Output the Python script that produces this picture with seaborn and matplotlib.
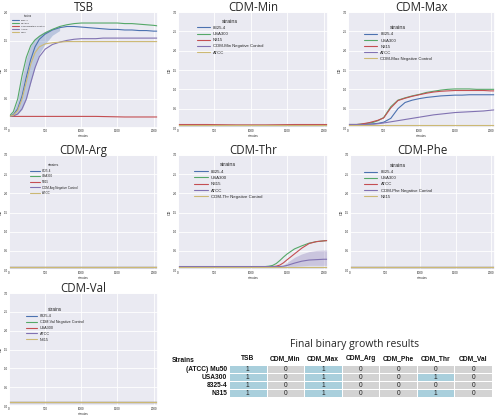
import matplotlib
matplotlib.use("Agg")
import pandas as pd
from matplotlib import pyplot as plt
from matplotlib.colors import ListedColormap
import seaborn as sns

sns.set_theme(style="darkgrid", rc={'grid.linewidth': 0.6})
plt.rcParams['font.family'] = ['Liberation Sans', 'DejaVu Sans']

DEEP = ["#4C72B0", "#55A868", "#C44E52", "#8172B2", "#CCB974"]

# time grids (minutes)
T = [0, 60, 120, 180, 240, 300, 360, 420, 500, 600, 700, 800, 900, 1000,
     1100, 1200, 1300, 1400, 1500, 1600, 1700, 1800, 1900, 2000, 2060]
T_FLAT = [0, 400, 800, 1200, 1600, 2060]
T_THR = [0, 400, 800, 1200, 1250, 1300, 1350, 1400, 1450, 1500, 1600,
         1700, 1800, 1900, 2000, 2060]

# TSB
TSB_ORDER = ['8325-4', 'USA300', 'TSB Negative Control', 'ATCC', 'N315']
tsb_8325 = [0.20, 0.23, 0.33, 0.55, 0.88, 1.18, 1.40, 1.53, 1.62, 1.69, 1.73, 1.75, 1.75,
            1.74, 1.73, 1.72, 1.71, 1.70, 1.70, 1.69, 1.69, 1.68, 1.68, 1.67, 1.67]
tsb_usa300 = [0.20, 0.28, 0.50, 0.90, 1.22, 1.42, 1.52, 1.58, 1.64, 1.70, 1.75, 1.78, 1.80,
              1.81, 1.81, 1.81, 1.81, 1.81, 1.81, 1.80, 1.80, 1.79, 1.78, 1.77, 1.76]
tsb_neg = [0.20, 0.20, 0.20, 0.20, 0.19, 0.19]
tsb_atcc = [0.20, 0.21, 0.24, 0.33, 0.50, 0.78, 1.04, 1.23, 1.36, 1.44, 1.48, 1.51, 1.53,
            1.54, 1.54, 1.54, 1.55, 1.55, 1.55, 1.55, 1.55, 1.55, 1.55, 1.55, 1.55]
tsb_n315 = [0.20, 0.22, 0.30, 0.50, 0.80, 1.10, 1.30, 1.40, 1.45, 1.47, 1.48, 1.49, 1.49,
            1.49, 1.49, 1.49, 1.49, 1.49, 1.49, 1.49, 1.49, 1.49, 1.49, 1.49, 1.49]
TSB_BAND_T = [0, 60, 120, 180, 240, 300, 360, 420, 500, 600, 700]
tsb_band_lo = [0.20, 0.21, 0.24, 0.32, 0.50, 0.78, 1.05, 1.28, 1.45, 1.60, 1.68]
tsb_band_hi = [0.20, 0.27, 0.48, 0.86, 1.20, 1.42, 1.54, 1.61, 1.67, 1.72, 1.75]

# CDM-Min
MIN_ORDER = ['8325-4', 'USA300', 'N315', 'CDM-Min Negative Control', 'ATCC']
min_8325 = [0.09, 0.09, 0.09, 0.09, 0.09, 0.09]
min_usa300 = [0.09, 0.09, 0.09, 0.09, 0.09, 0.09]
min_n315 = [0.09, 0.09, 0.08, 0.08, 0.09, 0.09]
min_neg = [0.08, 0.08, 0.08, 0.08, 0.08, 0.08]
min_atcc = [0.09, 0.09, 0.09, 0.09, 0.09, 0.09]

# CDM-Max
MAX_ORDER = ['8325-4', 'USA300', 'N315', 'ATCC', 'CDM-Max Negative Control']
max_8325 = [0.09, 0.09, 0.09, 0.09, 0.10, 0.10, 0.11, 0.12, 0.15, 0.25, 0.50, 0.66, 0.72,
            0.76, 0.79, 0.81, 0.83, 0.84, 0.85, 0.85, 0.86, 0.86, 0.86, 0.86, 0.86]
max_usa300 = [0.09, 0.09, 0.09, 0.10, 0.11, 0.13, 0.15, 0.19, 0.27, 0.55, 0.72, 0.78, 0.83,
              0.87, 0.92, 0.95, 0.98, 1.00, 1.01, 1.01, 1.01, 1.00, 1.00, 1.00, 1.00]
max_n315 = [0.09, 0.09, 0.09, 0.10, 0.12, 0.14, 0.17, 0.20, 0.26, 0.52, 0.71, 0.77, 0.82,
            0.86, 0.90, 0.93, 0.95, 0.96, 0.97, 0.97, 0.97, 0.97, 0.97, 0.96, 0.96]
max_atcc = [0.09, 0.09, 0.09, 0.09, 0.09, 0.10, 0.10, 0.11, 0.13, 0.16, 0.19, 0.22, 0.25,
            0.28, 0.31, 0.34, 0.36, 0.38, 0.40, 0.41, 0.42, 0.43, 0.44, 0.46, 0.47]
max_neg = [0.08, 0.08, 0.08, 0.08, 0.08, 0.08]

# CDM-Arg
ARG_ORDER = ['8325-4', 'USA300', 'N315', 'CDM-Arg Negative Control', 'ATCC']
arg_8325 = [0.08, 0.08, 0.08, 0.08, 0.08, 0.08]
arg_usa300 = [0.08, 0.08, 0.08, 0.08, 0.08, 0.08]
arg_n315 = [0.08, 0.08, 0.08, 0.08, 0.08, 0.08]
arg_neg = [0.08, 0.08, 0.08, 0.08, 0.08, 0.08]
arg_atcc = [0.08, 0.08, 0.08, 0.08, 0.08, 0.08]

# CDM-Thr
THR_ORDER = ['8325-4', 'USA300', 'N315', 'ATCC', 'CDM-Thr Negative Control']
thr_8325 = [0.09, 0.09, 0.09, 0.09, 0.09, 0.09]
thr_usa300 = [0.09, 0.09, 0.09, 0.09, 0.10, 0.12, 0.17, 0.25, 0.34, 0.42, 0.55, 0.63,
              0.70, 0.74, 0.76, 0.77]
thr_n315 = [0.09, 0.09, 0.09, 0.09, 0.09, 0.09, 0.10, 0.13, 0.19, 0.27, 0.42, 0.57,
            0.69, 0.74, 0.76, 0.77]
thr_atcc = [0.09, 0.09, 0.09, 0.09, 0.09, 0.09, 0.09, 0.09, 0.10, 0.12, 0.18, 0.23,
            0.26, 0.27, 0.28, 0.28]
thr_neg = [0.09, 0.09, 0.09, 0.09, 0.09, 0.09]
THR_BAND_T = [1400, 1450, 1500, 1600, 1700, 1800, 1900, 2000, 2060]
thr_band_lo = [0.09, 0.09, 0.10, 0.10, 0.11, 0.12, 0.12, 0.12, 0.12]
thr_band_hi = [0.09, 0.13, 0.20, 0.33, 0.42, 0.48, 0.51, 0.52, 0.52]

# CDM-Phe
PHE_ORDER = ['8325-4', 'USA300', 'ATCC', 'CDM-Phe Negative Control', 'N315']
phe_8325 = [0.09, 0.09, 0.09, 0.09, 0.09, 0.09]
phe_usa300 = [0.09, 0.09, 0.09, 0.09, 0.09, 0.09]
phe_atcc = [0.09, 0.09, 0.09, 0.09, 0.09, 0.09]
phe_neg = [0.09, 0.09, 0.09, 0.09, 0.09, 0.09]
phe_n315 = [0.09, 0.09, 0.09, 0.09, 0.09, 0.09]

# CDM-Val
VAL_ORDER = ['8325-4', 'CDM-Val Negative Control', 'USA300', 'ATCC', 'N315']
val_8325 = [0.10, 0.10, 0.10, 0.10, 0.10, 0.10]
val_neg = [0.10, 0.10, 0.10, 0.10, 0.10, 0.10]
val_usa300 = [0.10, 0.10, 0.10, 0.10, 0.10, 0.10]
val_atcc = [0.10, 0.10, 0.10, 0.10, 0.10, 0.10]
val_n315 = [0.10, 0.10, 0.10, 0.10, 0.10, 0.10]

# binary results table
STRAINS = ['(ATCC) Mu50', 'USA300', '8325-4', 'N315']
MEDIA = ['TSB', 'CDM_Min', 'CDM_Max', 'CDM_Arg', 'CDM_Phe', 'CDM_Thr', 'CDM_Val']
GROWTH = [[1, 0, 1, 0, 0, 0, 0],
          [1, 0, 1, 0, 0, 1, 0],
          [1, 0, 1, 0, 0, 0, 0],
          [1, 0, 1, 0, 0, 1, 0]]

W, H = 502, 415
fig = plt.figure(figsize=(W / 100, H / 100), dpi=100)


def px_axes(l, t, r, b):
    return fig.add_axes([l / W, 1 - b / H, (r - l) / W, (b - t) / H])


def draw_panel(ax, title, curves, order, ylim, yticks, leg_xy, fs, tfs, band=None):
    df = pd.concat([pd.DataFrame({'minutes': tt, 'OD': vv, 'strains': name})
                    for name, (tt, vv) in curves.items()], ignore_index=True)
    if band is not None:
        bt, lo, hi, ci = band
        ax.fill_between(bt, lo, hi, color=DEEP[ci], alpha=0.3, lw=0)
    sns.lineplot(data=df, x='minutes', y='OD', hue='strains', hue_order=order,
                 palette=DEEP, linewidth=0.8, ax=ax)
    ax.set_xlim(0, 2060)
    ax.set_ylim(*ylim)
    ax.set_xticks([0, 500, 1000, 1500, 2000])
    ax.set_yticks(yticks)
    ax.tick_params(labelsize=2.2, pad=0.8, length=0)
    ax.set_xlabel('minutes', fontsize=2.2, labelpad=0.5)
    ax.set_ylabel('OD', fontsize=2.6, labelpad=0.2)
    ax.set_title(title, fontsize=8.3, family='Open Sans', pad=1.0)
    h, l = ax.get_legend_handles_labels()
    ax.legend(h, l, title='strains', loc='upper left', bbox_to_anchor=leg_xy,
              frameon=False, fontsize=fs, title_fontsize=tfs, borderpad=0,
              handlelength=3, labelspacing=0.5)


Y3 = [0.0, 0.5, 1.0, 1.5, 2.0, 2.5, 3.0]

ax = px_axes(9, 12, 158, 128)
draw_panel(ax, 'TSB',
           {'8325-4': (T, tsb_8325), 'USA300': (T, tsb_usa300),
            'TSB Negative Control': (T_FLAT, tsb_neg), 'ATCC': (T, tsb_atcc),
            'N315': (T, tsb_n315)},
           TSB_ORDER, (0, 2.0), [0.0, 0.5, 1.0, 1.5, 2.0], (0.013, 0.99), 1.7, 2.0,
           band=(TSB_BAND_T, tsb_band_lo, tsb_band_hi, 0))

ax = px_axes(178, 12, 328, 128)
draw_panel(ax, 'CDM-Min',
           {'8325-4': (T_FLAT, min_8325), 'USA300': (T_FLAT, min_usa300),
            'N315': (T_FLAT, min_n315), 'CDM-Min Negative Control': (T_FLAT, min_neg),
            'ATCC': (T_FLAT, min_atcc)},
           MIN_ORDER, (0, 3.0), Y3, (0.11, 0.96), 3.1, 4.0)

ax = px_axes(348, 12, 495, 128)
draw_panel(ax, 'CDM-Max',
           {'8325-4': (T, max_8325), 'USA300': (T, max_usa300), 'N315': (T, max_n315),
            'ATCC': (T, max_atcc), 'CDM-Max Negative Control': (T_FLAT, max_neg)},
           MAX_ORDER, (0, 3.0), Y3, (0.095, 0.905), 3.1, 4.0)

ax = px_axes(9, 155, 158, 270)
draw_panel(ax, 'CDM-Arg',
           {'8325-4': (T_FLAT, arg_8325), 'USA300': (T_FLAT, arg_usa300),
            'N315': (T_FLAT, arg_n315), 'CDM-Arg Negative Control': (T_FLAT, arg_neg),
            'ATCC': (T_FLAT, arg_atcc)},
           ARG_ORDER, (0, 3.0), Y3, (0.133, 0.94), 2.2, 2.8)

ax = px_axes(178, 155, 328, 270)
draw_panel(ax, 'CDM-Thr',
           {'8325-4': (T_FLAT, thr_8325), 'USA300': (T_THR, thr_usa300),
            'N315': (T_THR, thr_n315), 'ATCC': (T_THR, thr_atcc),
            'CDM-Thr Negative Control': (T_FLAT, thr_neg)},
           THR_ORDER, (0, 3.0), Y3, (0.093, 0.957), 3.2, 4.0,
           band=(THR_BAND_T, thr_band_lo, thr_band_hi, 3))

ax = px_axes(350, 155, 495, 270)
draw_panel(ax, 'CDM-Phe',
           {'8325-4': (T_FLAT, phe_8325), 'USA300': (T_FLAT, phe_usa300),
            'ATCC': (T_FLAT, phe_atcc), 'CDM-Phe Negative Control': (T_FLAT, phe_neg),
            'N315': (T_FLAT, phe_n315)},
           PHE_ORDER, (0, 3.0), Y3, (0.083, 0.95), 3.1, 4.0)

ax = px_axes(9, 293, 158, 406)
draw_panel(ax, 'CDM-Val',
           {'8325-4': (T_FLAT, val_8325), 'CDM-Val Negative Control': (T_FLAT, val_neg),
            'USA300': (T_FLAT, val_usa300), 'ATCC': (T_FLAT, val_atcc),
            'N315': (T_FLAT, val_n315)},
           VAL_ORDER, (0, 3.0), Y3, (0.1, 0.89), 2.7, 3.4)

# results table drawn as a heatmap
grid = pd.DataFrame(GROWTH, index=STRAINS, columns=MEDIA)
axt = px_axes(229, 365, 492, 397)
sns.heatmap(grid, ax=axt, cmap=ListedColormap(['#D3D3D3', '#A9CFDC']), vmin=0, vmax=1,
            cbar=False, annot=True, fmt='d', linewidths=0.6, linecolor='white',
            xticklabels=True, yticklabels=True,
            annot_kws={'fontsize': 4.8, 'color': '#222222'})
axt.xaxis.tick_top()
axt.tick_params(axis='x', length=0, labelsize=4.8, pad=4.5)
axt.tick_params(axis='y', length=0, labelsize=4.8, pad=1.5)
axt.set_xlabel('')
axt.set_ylabel('')
for lab in axt.get_xticklabels() + axt.get_yticklabels():
    lab.set_fontweight('bold')
    lab.set_color('#111111')
plt.setp(axt.get_yticklabels(), rotation=0)
plt.setp(axt.get_xticklabels(), rotation=0, va='center')
fig.text(172 / W, 1 - 360 / H, 'Strains', ha='left', va='center', fontsize=4.8,
         fontweight='bold', color='#111111')
fig.text(355 / W, 1 - 344 / H, 'Final binary growth results', ha='center',
         va='center', fontsize=7.5, family='Open Sans')

fig.savefig('out.png', dpi=100)
